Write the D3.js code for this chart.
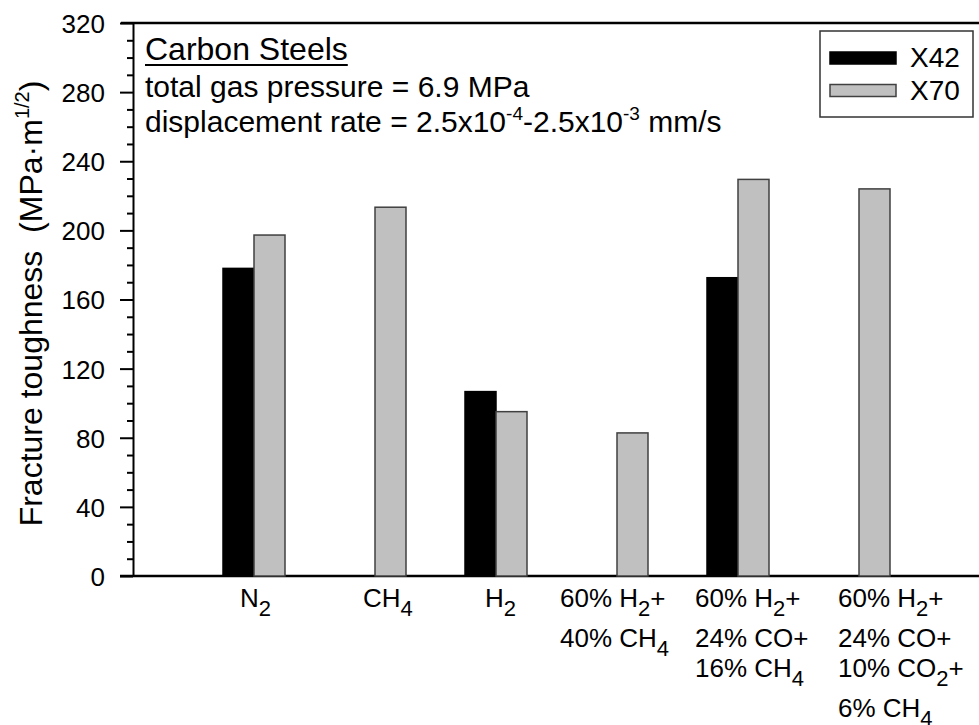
<!DOCTYPE html>
<html>
<head>
<meta charset="utf-8">
<script src="https://cdn.jsdelivr.net/npm/d3@7"></script>
<style>
  body { margin: 0; background: #fff; }
  svg { display: block; font-family: "Liberation Sans", Arial, sans-serif; }
</style>
</head>
<body>
<div id="chart"></div>
<script>
const width = 979;
const height = 725;

// data
const categories = ["N2", "CH4", "H2", "60H2-40CH4", "60H2-24CO-16CH4", "60H2-24CO-10CO2-6CH4"];
const x42 = [178, null, 106.7, null, 172.6, null];
const x70 = [197.3, 213.4, 95.1, 82.8, 229.5, 224];
const seriesNames = ["X42", "X70"];
const yTicks = [0, 40, 80, 120, 160, 200, 240, 280, 320];

// label lines, each line is a list of [text, kind] pieces (kind: n = normal, sub = subscript)
const catLabels = [
  [[["N", "n"], ["2", "sub"]]],
  [[["CH", "n"], ["4", "sub"]]],
  [[["H", "n"], ["2", "sub"]]],
  [[["60% H", "n"], ["2", "sub"], ["+", "n"]], [["40% CH", "n"], ["4", "sub"]]],
  [[["60% H", "n"], ["2", "sub"], ["+", "n"]], [["24% CO+", "n"]], [["16% CH", "n"], ["4", "sub"]]],
  [[["60% H", "n"], ["2", "sub"], ["+", "n"]], [["24% CO+", "n"]], [["10% CO", "n"], ["2", "sub"], ["+", "n"]], [["6% CH", "n"], ["4", "sub"]]]
];
const labelShift = [-14, -12, -11, -57, -43, -21];
const lineBaselines = [607, 647, 677, 717];

const margin = {top: 23, right: 0, bottom: 149, left: 133};

const svg = d3.select("#chart")
  .append("svg")
  .attr("width", width)
  .attr("height", height);

const x = d3.scaleBand()
  .domain(categories)
  .range([margin.left + 60.5, 980 - 60.5])
  .padding(0);

const y = d3.scaleLinear()
  .domain([0, 320])
  .range([height - margin.bottom, margin.top]);

const barW = 31;

// y axis minor ticks
svg.append("g")
  .attr("transform", `translate(${margin.left},0)`)
  .call(d3.axisLeft(y).tickValues(d3.range(0, 321, 10).filter(d => d % 40 !== 0)).tickSize(6).tickFormat(""))
  .call(g => g.select(".domain").remove())
  .call(g => g.selectAll("line").attr("stroke-width", 2));

// y axis major
svg.append("g")
  .attr("transform", `translate(${margin.left},0)`)
  .call(d3.axisLeft(y).tickValues(yTicks).tickSize(13).tickPadding(15).tickSizeOuter(0))
  .call(g => g.select(".domain").attr("stroke-width", 2))
  .call(g => g.selectAll("line").attr("stroke-width", 2))
  .call(g => g.selectAll("text")
    .attr("font-size", 26)
    .attr("font-family", "Liberation Sans, Arial, sans-serif")
    .attr("fill", "#000")
    .attr("dy", "0.36em"));

// top frame and bottom axis lines
svg.append("line")
  .attr("x1", margin.left - 12).attr("x2", width)
  .attr("y1", y(320)).attr("y2", y(320))
  .attr("stroke", "#000").attr("stroke-width", 2.5);
svg.append("line")
  .attr("x1", margin.left - 13).attr("x2", width)
  .attr("y1", y(0)).attr("y2", y(0))
  .attr("stroke", "#000").attr("stroke-width", 2.5);

// bars
const barData = [];
categories.forEach((c, i) => {
  if (x42[i] != null) barData.push({cat: c, s: 0, v: x42[i]});
  if (x70[i] != null) barData.push({cat: c, s: 1, v: x70[i]});
});

svg.append("g")
  .selectAll("rect")
  .data(barData)
  .join("rect")
  .attr("x", d => x(d.cat) + x.bandwidth() / 2 + (d.s === 0 ? -barW : 0))
  .attr("width", barW)
  .attr("y", d => y(d.v))
  .attr("height", d => y(0) - y(d.v))
  .attr("fill", d => d.s === 0 ? "#000" : "#c0c0c0")
  .attr("stroke", d => d.s === 0 ? "#000" : "#404040")
  .attr("stroke-width", 1.5);

// category labels
const labelG = svg.append("g").attr("font-size", 26).attr("fill", "#000");
categories.forEach((c, i) => {
  const x0 = x(c) + x.bandwidth() / 2 + labelShift[i];
  catLabels[i].forEach((line, j) => {
    const t = labelG.append("text")
      .attr("x", x0)
      .attr("y", lineBaselines[j]);
    let prevSub = false;
    line.forEach(([txt, kind]) => {
      const ts = t.append("tspan").text(txt);
      if (kind === "sub") ts.attr("font-size", 22).attr("dy", 9);
      else if (prevSub) ts.attr("dy", -9);
      prevSub = kind === "sub";
    });
  });
});

// y axis title
const yt = svg.append("text")
  .attr("transform", `translate(42,${(y(0) + y(320)) / 2 + 4}) rotate(-90)`)
  .attr("text-anchor", "middle")
  .attr("font-size", 32)
  .attr("fill", "#000")
  .attr("xml:space", "preserve");
yt.append("tspan").text("Fracture toughness  (MPa\u00b7m");
yt.append("tspan").text("1/2").attr("font-size", 20).attr("dy", -13);
yt.append("tspan").text(")").attr("dy", 13);

// annotation
const ann = svg.append("g").attr("fill", "#000");
const cs = ann.append("text")
  .attr("x", 145).attr("y", 60)
  .attr("font-size", 32)
  .text("Carbon Steels");
ann.append("line")
  .attr("x1", 145).attr("x2", 145 + cs.node().getComputedTextLength())
  .attr("y1", 65).attr("y2", 65)
  .attr("stroke", "#000").attr("stroke-width", 2);
ann.append("text")
  .attr("x", 145).attr("y", 97)
  .attr("font-size", 30)
  .text("total gas pressure = 6.9 MPa");
const dr = ann.append("text")
  .attr("x", 145).attr("y", 132)
  .attr("font-size", 30);
dr.append("tspan").text("displacement rate = 2.5x10");
dr.append("tspan").text("-4").attr("font-size", 19).attr("dy", -12);
dr.append("tspan").text("-2.5x10").attr("dy", 12);
dr.append("tspan").text("-3").attr("font-size", 19).attr("dy", -12);
dr.append("tspan").text(" mm/s").attr("dy", 12);

// legend
const legend = svg.append("g");
legend.append("rect")
  .attr("x", 820).attr("y", 31)
  .attr("width", 153).attr("height", 86)
  .attr("fill", "#fff").attr("stroke", "#333").attr("stroke-width", 1.5);
seriesNames.forEach((name, i) => {
  legend.append("rect")
    .attr("x", 830).attr("y", 52 + i * 32.5)
    .attr("width", 66).attr("height", 12)
    .attr("fill", i === 0 ? "#000" : "#c0c0c0")
    .attr("stroke", i === 0 ? "#000" : "#404040")
    .attr("stroke-width", 1.5);
  legend.append("text")
    .attr("x", 910).attr("y", 67 + i * 32.5)
    .attr("font-size", 28)
    .attr("fill", "#000")
    .text(name);
});
</script>
</body>
</html>
